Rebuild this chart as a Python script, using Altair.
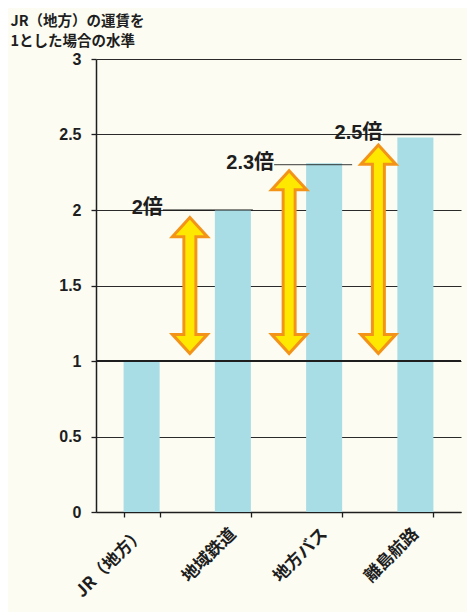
import altair as alt
import pandas as pd

# ---- data ----
categories = ["JR（地方）", "地域鉄道", "地方バス", "離島航路"]
values = [1.0, 2.0, 2.31, 2.48]
ann_categories = ["地域鉄道", "地方バス", "離島航路"]
ann_labels = ["2倍", "2.3倍", "2.5倍"]
ann_levels = [2.0, 2.3, 2.5]
base_level = 1.0
y_ticks = [0, 0.5, 1, 1.5, 2, 2.5, 3]
y_title = ["JR（地方）の運賃を", "1とした場合の水準"]

# ---- styles (pixel offsets per annotation) ----
ARROW_DX = [-43, -35, -37]
LABEL_DX = [-70, -50, -33]
LEADER_DX = [-25, -11, 6]
LEADER_LEN = [90, 78, 77]
GAP = 0.05          # gap between arrow tips and the levels (data units)
HEAD_H = 0.125      # arrow head height (data units)

BAR = "#A9DDE5"
YELLOW = "#FFE800"
ORANGE = "#F39419"
INK = "#1E1E1E"
FONT_NUM = "Liberation Sans, Noto Sans CJK JP"
FONT_JP = "Noto Sans CJK JP"

df = pd.DataFrame({"cat": categories, "value": values})
val_of = dict(zip(categories, values))
ann = pd.DataFrame({
    "cat": ann_categories,
    "label": ann_labels,
    "level": ann_levels,
    "top": [val_of[c] for c in ann_categories],
})
ann["lo"] = base_level + GAP
ann["hi"] = ann["top"] - GAP
ann["lo_shaft"] = ann["lo"] + HEAD_H
ann["hi_shaft"] = ann["hi"] - HEAD_H
ann["lo_fill"] = ann["lo"] + HEAD_H - 0.015
ann["hi_fill"] = ann["hi"] - HEAD_H + 0.015

x_enc = alt.X(
    "cat:N",
    sort=categories,
    scale=alt.Scale(domain=categories, paddingInner=0.605, paddingOuter=0.3025),
    axis=alt.Axis(
        title=None, labelAngle=-45, labelAlign="right", labelBaseline="middle",
        labelFont=FONT_JP, labelFontSize=17, labelFontWeight="bold", labelColor=INK,
        labelPadding=14, tickBand="extent", tickSize=5, tickColor=INK, tickWidth=1.3,
        domainColor=INK, domainWidth=1.5, grid=False,
    ),
)
y_scale = alt.Scale(domain=[0, 3], nice=False)

bars = alt.Chart(df).mark_bar(color=BAR).encode(
    x=x_enc,
    y=alt.Y(
        "value:Q", scale=y_scale,
        axis=alt.Axis(
            values=y_ticks, format="~g", title=y_title, titleAngle=0,
            titleAlign="left", titleBaseline="alphabetic", titleX=-86, titleY=-34,
            titleFont=FONT_JP, titleFontSize=14.5, titleFontWeight="bold",
            titleColor=INK, titleLineHeight=20,
            labelFont=FONT_NUM, labelFontSize=16, labelFontWeight="bold",
            labelColor=INK, labelPadding=10, tickSize=5, tickColor=INK,
            tickWidth=1.3, domainColor=INK, domainWidth=1.5,
            grid=True, gridColor="#2a2a2a", gridWidth=1.2,
        ),
    ),
)

base_line = alt.Chart(df).mark_rule(color=INK, strokeWidth=2.2).encode(
    y=alt.datum(base_level, scale=y_scale)
)

layers = [bars, base_line]
up_head = "M0,0L1,1.09L-1,1.09Z"
down_head = "M0,0L1,-1.09L-1,-1.09Z"
for i, c in enumerate(ann_categories):
    src = alt.Chart(ann).transform_filter(alt.datum.cat == c)
    xi = alt.X("cat:N", sort=categories)
    leader = src.mark_tick(
        color=INK, thickness=1.3, size=LEADER_LEN[i], xOffset=LEADER_DX[i]
    ).encode(x=xi, y=alt.Y("level:Q", scale=y_scale))
    label = src.mark_text(
        align="right", baseline="middle", dx=LABEL_DX[i], dy=-2,
        font=FONT_NUM, fontSize=20, fontWeight="bold", color=INK,
    ).encode(x=xi, y=alt.Y("level:Q", scale=y_scale), text="label:N")
    shaft = src.mark_rule(
        color=ORANGE, strokeWidth=15, xOffset=ARROW_DX[i]
    ).encode(x=xi, y=alt.Y("lo_shaft:Q", scale=y_scale), y2="hi_shaft:Q")
    head_up = src.mark_point(
        shape=up_head, size=1225, filled=True, fill=YELLOW, stroke=ORANGE,
        strokeWidth=3, opacity=1, xOffset=ARROW_DX[i],
    ).encode(x=xi, y=alt.Y("hi:Q", scale=y_scale))
    head_dn = src.mark_point(
        shape=down_head, size=1225, filled=True, fill=YELLOW, stroke=ORANGE,
        strokeWidth=3, opacity=1, xOffset=ARROW_DX[i],
    ).encode(x=xi, y=alt.Y("lo:Q", scale=y_scale))
    fill = src.mark_rule(
        color=YELLOW, strokeWidth=9, xOffset=ARROW_DX[i]
    ).encode(x=xi, y=alt.Y("lo_fill:Q", scale=y_scale), y2="hi_fill:Q")
    layers += [leader, label, shaft, head_up, head_dn, fill]

chart = alt.layer(*layers).properties(
    width=365, height=453,
    autosize=alt.AutoSizeParams(type="none"),
    padding={"left": 88, "top": 51, "right": 6, "bottom": 100},
    background="#FCFCF2",
).configure_view(stroke=None)

chart.save("out.html", embed_options={"renderer": "svg", "actions": False})
